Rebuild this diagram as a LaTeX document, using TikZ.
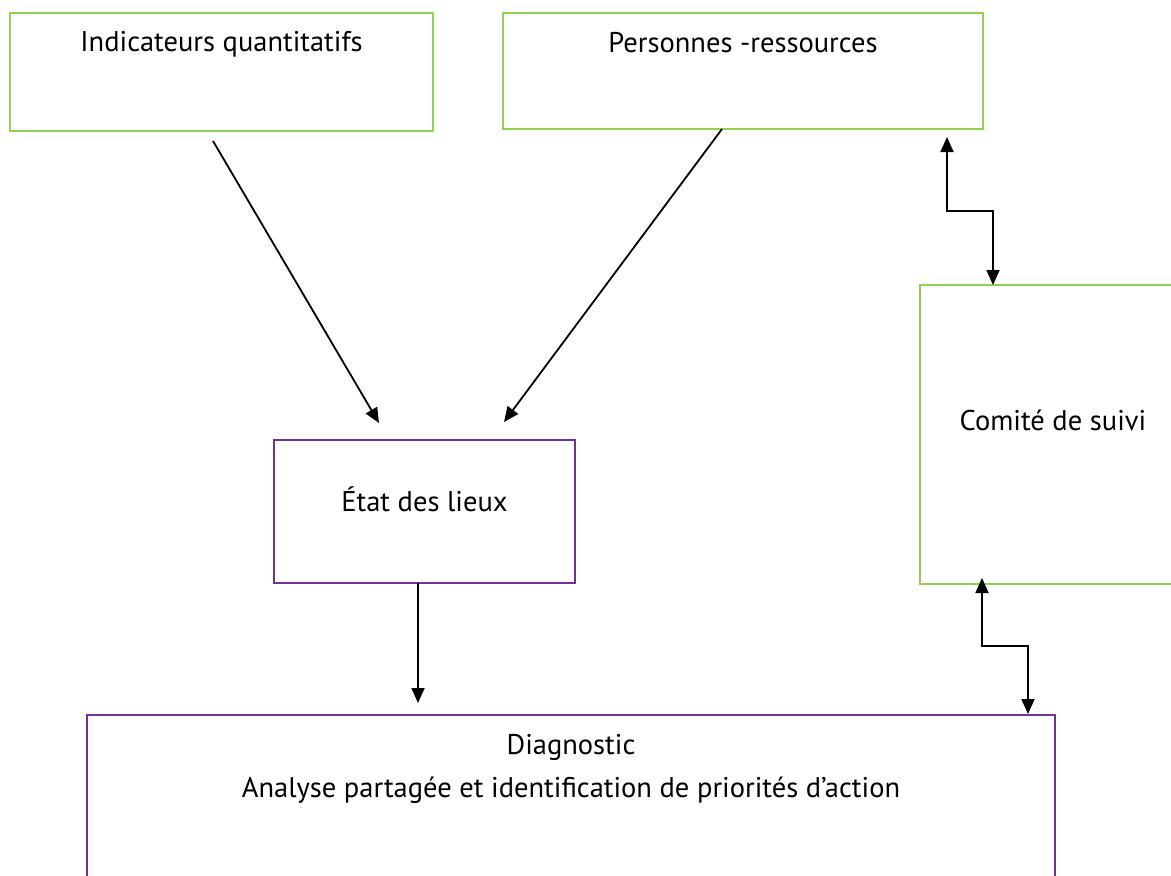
\documentclass[tikz,border=0pt]{standalone}
\usepackage{fontspec}
\setmainfont{PT Sans}
\usetikzlibrary{arrows.meta,calc}

\definecolor{boxgreen}{HTML}{92D050}
\definecolor{boxpurple}{HTML}{7030A0}

\begin{document}
\begin{tikzpicture}[x=1pt, y=-1pt, font=\fontsize{28.5}{33}\selectfont]
	\useasboundingbox (0,0) rectangle (1171,876);
	\clip (0,0) rectangle (1171,876);
	\begin{scope}[every node/.style={draw=boxgreen, line width=2pt, inner sep=0pt}]
	\node[minimum width=423pt, text height=38pt, text depth=80pt] (IQ) at (221.5,72) {Indicateurs quantitatifs};
	\node[minimum width=480pt, text height=39pt, text depth=77pt] (PR) at (743,71) {Personnes -ressources};
	\node[minimum width=266pt, text height=145pt, text depth=154pt] (CS) at (1053,434.5) {Comité de suivi};
	\end{scope}
	
	\begin{scope}[every node/.style={draw=boxpurple, line width=2pt, inner sep=0pt, align=center}]
	\node[minimum width=301pt, text height=71pt, text depth=72pt] (EL) at (424.5,511.5) {État des lieux};
	\node[minimum width=968pt, text height=82pt, text depth=93pt] (DG) at (571,802.5) {Diagnostic\\[10pt]Analyse partagée et identification de priorités d’action};
	\end{scope}
	
	% bouts des fleches
	\coordinate (a1) at (213,141);
	\coordinate (b1) at (379,423);
	\coordinate (a2) at (722,129);
	\coordinate (b2) at (504,422);
	\coordinate (a3) at (418,583);
	\coordinate (b3) at (418,703);
	\coordinate (c1) at (947,137);
	\coordinate (c2) at (993,285);
	\coordinate (d1) at (982,578);
	\coordinate (d2) at (1028,714);
	
	\begin{scope}[every path/.style={draw=black, line width=1.8pt},
	>={Triangle[length=15pt, width=13pt]}]
	\path [->] (a1) -- (b1);
	\path [->] (a2) -- (b2);
	\path [->] (a3) -- (b3);
	\path [<->] (c1) |- ($(c1)!.5!(c2)$) -| (c2);
	\path [<->] (d1) |- ($(d1)!.5!(d2)$) -| (d2);
	\end{scope}
\end{tikzpicture}
\end{document}
